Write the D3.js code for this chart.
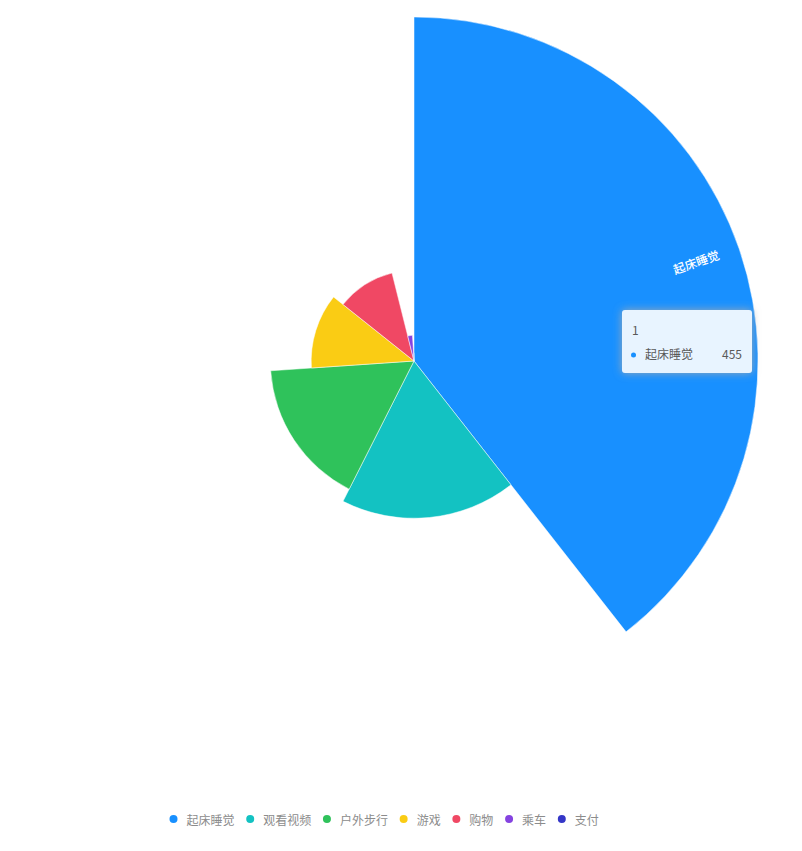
<!DOCTYPE html>
<html>
<head>
<meta charset="utf-8">
<script src="https://cdn.jsdelivr.net/npm/d3@7"></script>
<style>
  html, body { margin: 0; padding: 0; background: #fff; }
  svg { display: block; }
  text { font-family: "Noto Sans CJK SC", "Noto Sans", sans-serif; }
</style>
</head>
<body>
<svg id="chart" width="802" height="851"></svg>
<script>
const categories = ["起床睡觉", "观看视频", "户外步行", "游戏", "购物", "乘车", "支付"];
const values = [455, 208, 190, 136, 120, 34, 11];
const colors = ["#1890FF", "#13C2C2", "#2FC25B", "#FACC14", "#F04864", "#8543E0", "#3436C7"];
const tooltipTitle = "1";
const tooltipIndex = 0;
const labelIndices = [0];

const W = 802, H = 851;
const cx = 414, cy = 361, R = 344;

const svg = d3.select("#chart");
const data = categories.map((c, i) => ({ cat: c, value: values[i], color: colors[i] }));

const rScale = d3.scaleLinear().domain([0, d3.max(values)]).range([0, R]);
const pie = d3.pie().sort(null).value(d => d.value).startAngle(0).endAngle(2 * Math.PI);
const arcs = pie(data);
const arc = d3.arc().innerRadius(0).outerRadius(d => rScale(d.data.value));

const g = svg.append("g").attr("transform", `translate(${cx},${cy})`);
g.selectAll("path.slice").data(arcs).join("path")
  .attr("class", "slice")
  .attr("d", arc)
  .attr("fill", d => d.data.color)
  .attr("stroke", "#fff")
  .attr("stroke-width", 0.5);

// labels inside slices (radial)
g.selectAll("text.lbl").data(arcs.filter((d, i) => labelIndices.includes(i))).join("text")
  .attr("class", "lbl")
  .attr("transform", d => {
    const a = (d.startAngle + d.endAngle) / 2;
    const r = rScale(d.data.value) - 45;
    const x = r * Math.sin(a), y = -r * Math.cos(a);
    const rot = a * 180 / Math.PI - 90;
    return `translate(${x},${y}) rotate(${rot})`;
  })
  .attr("text-anchor", "middle")
  .attr("dominant-baseline", "middle")
  .attr("fill", "#fff")
  .attr("font-size", 12)
  .attr("font-weight", 500)
  .text(d => d.data.cat);

// tooltip
const defs = svg.append("defs");
const f = defs.append("filter").attr("id", "shadow").attr("x", "-30%").attr("y", "-50%").attr("width", "160%").attr("height", "200%");
f.append("feDropShadow").attr("dx", 0).attr("dy", 0).attr("stdDeviation", 4).attr("flood-color", "#aeaeae").attr("flood-opacity", 0.9);

const tt = svg.append("g").attr("transform", "translate(622,310)");
tt.append("rect").attr("width", 130).attr("height", 63).attr("rx", 3)
  .attr("fill", "#e8f4ff").attr("filter", "url(#shadow)");
tt.append("text").attr("x", 10).attr("y", 25).attr("font-size", 12).attr("fill", "#595959").text(tooltipTitle);
const td = data[tooltipIndex];
tt.append("circle").attr("cx", 11.5).attr("cy", 45).attr("r", 2.5).attr("fill", td.color);
tt.append("text").attr("x", 23).attr("y", 49).attr("font-size", 12).attr("fill", "#595959").text(td.cat);
tt.append("text").attr("x", 120).attr("y", 49).attr("text-anchor", "end").attr("font-size", 12).attr("fill", "#595959").text(td.value);

// legend
const lg = svg.append("g").attr("transform", "translate(0,819)");
let x = 173.5;
data.forEach(d => {
  const item = lg.append("g").attr("transform", `translate(${x},0)`);
  item.append("circle").attr("r", 4).attr("fill", d.color);
  const t = item.append("text").attr("x", 13).attr("y", 0).attr("dominant-baseline", "central")
    .attr("font-size", 12).attr("fill", "#8c8c8c").text(d.cat);
  const w = t.node().getComputedTextLength();
  x += w + 28.7;
});
</script>
</body>
</html>
